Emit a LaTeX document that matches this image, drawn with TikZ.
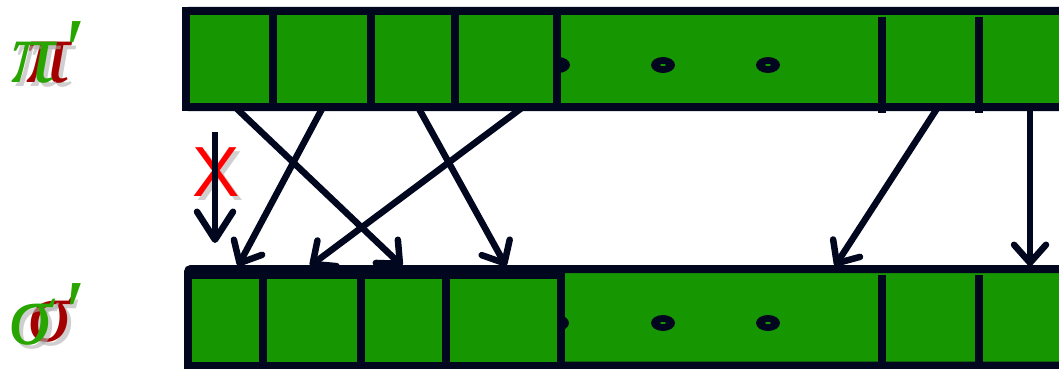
\documentclass[tikz,border=0pt]{standalone}
\usepackage{fontspec}
\usetikzlibrary{arrows.meta,calc}
\newfontfamily\labfont{Liberation Serif}
\newfontfamily\xfont{Liberation Sans}
\definecolor{cellgreen}{RGB}{22,150,0}
\definecolor{ink}{RGB}{2,7,32}
\definecolor{labgreen}{RGB}{40,165,0}
\definecolor{labred}{RGB}{165,0,0}
\definecolor{shade}{RGB}{175,175,175}
\begin{document}
\begin{tikzpicture}[x=1pt,y=-1pt,
  bar/.style={draw=ink, line width=8pt, fill=cellgreen, rounded corners=3pt},
  tcell/.style={draw=ink, line width=8pt, fill=cellgreen, inner sep=0pt, outer sep=0pt, minimum height=96pt},
  bcell/.style={draw=ink, line width=8pt, fill=cellgreen, inner sep=0pt, outer sep=0pt, minimum height=90.5pt},
  ghost/.style={draw=none, inner sep=0pt, outer sep=0pt},
  divider/.style={draw=ink, line width=8pt},
  dotmark/.style={fill=ink},
  hole/.style={fill=cellgreen},
  arr/.style={draw=ink, line width=6.5pt, -{Straight Barb[length=18pt,width=32pt,round]}},
  bigarr/.style={draw=ink, line width=6.5pt, -{Straight Barb[length=28pt,width=36pt,round]}},
  glyph/.style={inner sep=0pt, anchor=base west, font=\labfont\itshape\fontsize{88}{88}\selectfont},
  primeglyph/.style={inner sep=0pt, anchor=base west, font=\labfont\itshape\fontsize{90}{90}\selectfont},
  shadow/.style={text=shade, opacity=0.6}
]
\useasboundingbox (0,0) rectangle (1059,369);

% ---------- top bar ----------
\path[bar] (186,11) rectangle (1085,107);
\foreach \cx in {558,663,768}{
  \fill[dotmark] (\cx,65) ellipse [x radius=12pt, y radius=8pt];
  \fill[hole] (\cx,65) ellipse [x radius=3pt, y radius=1pt];
}
\node[tcell, minimum width=87pt]  (t1) at (229.5,59) {};
\node[tcell, minimum width=98pt]  (t2) at (322,59) {};
\node[tcell, minimum width=84pt]  (t3) at (413,59) {};
\node[tcell, minimum width=102pt] (t4) at (506,59) {};
\node[ghost, minimum width=325pt, minimum height=96pt] (t5) at (719.5,59) {};
\node[ghost, minimum width=97pt, minimum height=96pt]  (t6) at (930.5,59) {};
\node[ghost, minimum width=101pt, minimum height=96pt] (t7) at (1029.5,59) {};
\draw[divider] (882,17) -- (882,113);
\draw[divider] (979,17) -- (979,113);

% ---------- bottom bar ----------
\path[bar] (188,269) rectangle (1085,365.5);
\foreach \cx in {557,663,768}{
  \fill[dotmark] (\cx,323) ellipse [x radius=12pt, y radius=8pt];
  \fill[hole] (\cx,323) ellipse [x radius=3pt, y radius=1pt];
}
\node[bcell, minimum width=75pt]    (b1) at (225.5,320.25) {};
\node[bcell, minimum width=98pt]    (b2) at (312,320.25) {};
\node[bcell, minimum width=84.5pt]  (b3) at (403.25,320.25) {};
\node[bcell, minimum width=115.5pt] (b4) at (503.25,320.25) {};
\node[ghost, minimum width=321pt, minimum height=90.5pt] (b5) at (721.5,320.25) {};
\node[ghost, minimum width=97pt, minimum height=90.5pt]  (b6) at (930.5,320.25) {};
\node[ghost, minimum width=101pt, minimum height=90.5pt] (b7) at (1029.5,320.25) {};
\draw[divider] (882,275) -- (882,372);
\draw[divider] (979,275) -- (979,372);

% ---------- crossing arrows ----------
\draw[arr] ([xshift=5.5pt]t1.south) -- ([xshift=-1pt,yshift=9pt]b3.north);
\draw[arr] ([xshift=1pt]t2.south)   -- ([xshift=12.5pt,yshift=9pt]b1.north);
\draw[arr] ([xshift=5pt]t3.south)   -- ([xshift=2.75pt,yshift=9pt]b4.north);
\draw[arr] ([xshift=17pt]t4.south)  -- ([xshift=-2pt,yshift=9pt]b2.north);
\draw[arr] ([xshift=7.5pt]t6.south) -- ([xshift=113.5pt,yshift=9pt]b5.north);
\draw[arr] ([xshift=0.5pt]t7.south) -- ([xshift=0.5pt,yshift=9pt]b7.north);

% ---------- forbidden arrow ----------
\node[inner sep=0pt, shadow, font=\xfont\fontsize{71}{71}\selectfont] at (220,176) {X};
\node[inner sep=0pt, text=red, font=\xfont\fontsize{71}{71}\selectfont] (xmark) at (216,172) {X};
\coordinate (xs) at (215,132);
\coordinate (xe) at (215,243);
\draw[bigarr] (xs) -- (xe);

% ---------- labels ----------
\node[glyph, shadow] at (30,86) {π};
\node[glyph, text=labred] at (26,82) {π};
\node[glyph, shadow] at (15,86) {π};
\node[glyph, text=labgreen] (pi) at (11,82) {π};
\node[primeglyph, text=labgreen] (piprime) at (60,80) {′};

\node[glyph, shadow] at (32,345) {σ};
\node[glyph, text=labred] at (28,341) {σ};
\node[glyph, shadow] at (13,348) {σ};
\node[glyph, text=labgreen] (sigma) at (9,344) {σ};
\node[primeglyph, text=labgreen] (sigprime) at (60,342) {′};
\end{tikzpicture}
\end{document}
